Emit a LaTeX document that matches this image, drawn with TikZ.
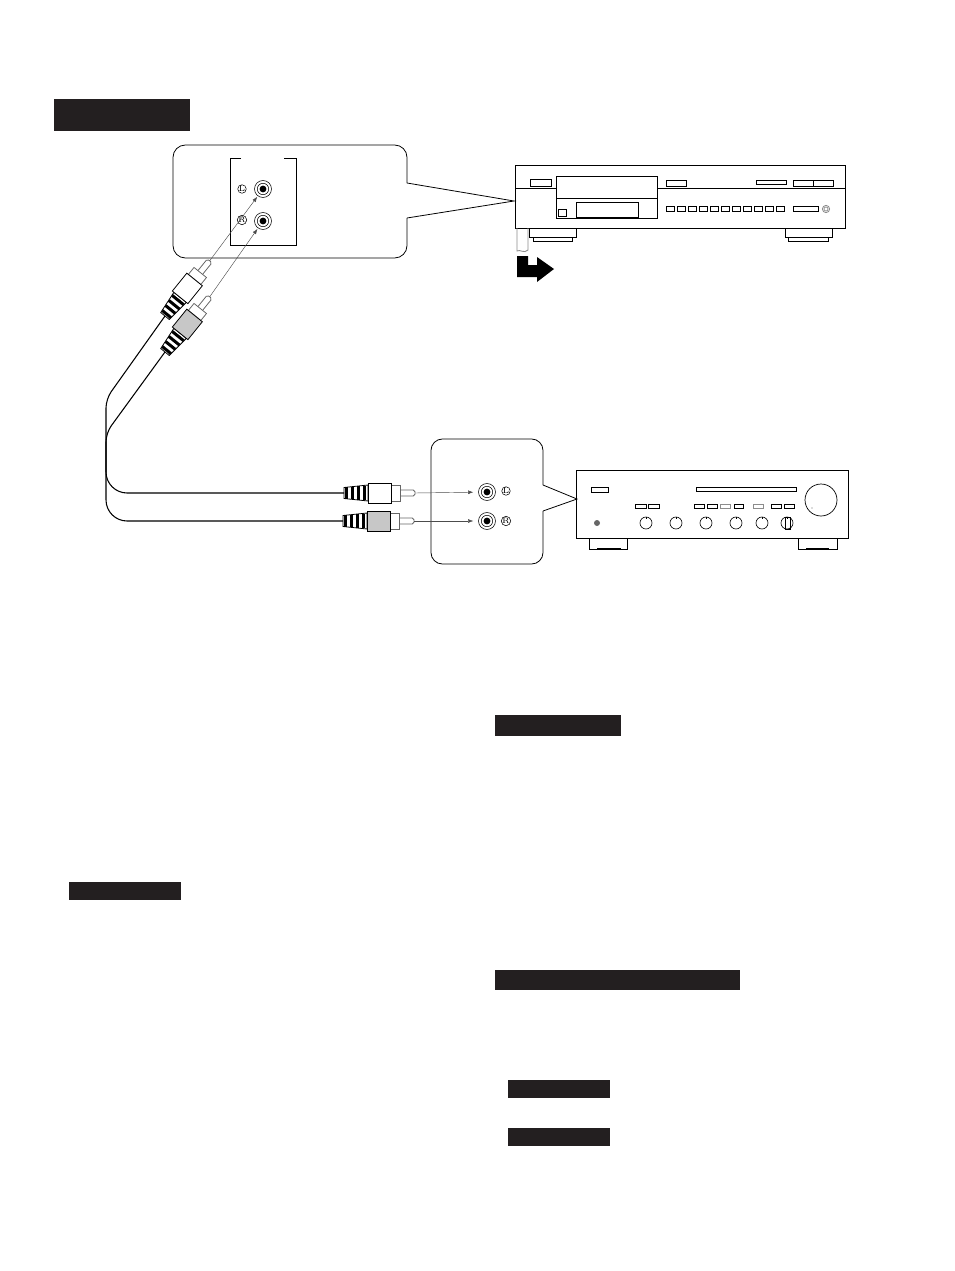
\documentclass[tikz,border=0pt]{standalone}
\usepackage{tikz}
\usetikzlibrary{
    arrows.meta,
    calc
}

\definecolor{barblack}{HTML}{231F20}

\tikzset{
    unit/.style={line width=0.45pt},
    softgrey/.style={draw=black!45,line width=0.5pt},
    signal/.style={draw=black!70,line width=0.25pt,-{Latex[length=3pt,width=2.2pt]}},
    cable/.style={line width=0.6pt},
    jack/.style={circle,draw,line width=0.3pt,minimum size=0.34cm,inner sep=0pt},
    channel/.style={circle,draw,line width=0.3pt,minimum size=0.14cm,inner sep=0pt,font=\fontsize{4.5}{4.5}\selectfont},
    pics/rcaplug/.style={code={
        % Strain relief
        \draw[unit,fill=white] (0,-5.5) -- (24,-8) -- (24,8) -- (0,5.5) -- cycle;
        \foreach \s in {1,7,13,19} {
            \fill[black] (\s,-5.5-\s*0.1) rectangle (\s+3,5.5+\s*0.1);
        }
        % Body, collar and pin
        \draw[unit,draw=black!60,fill=white,rounded corners=1pt] (56,-3) -- (71,-3) -- (71,3) -- (56,3);
        \draw[unit,draw=black!60,fill=white] (47,-8) rectangle (56,8);
        \draw[unit,fill=#1] (24,-10) rectangle (47,10);
        \coordinate (-end) at (0,0);
        \coordinate (-tip) at (71,0);
    }}
}

\begin{document}
\begin{tikzpicture}[x=0.02cm,y=-0.02cm]

\useasboundingbox (0,0) rectangle (954,1271);

% Black bars
\fill[barblack] (54,99) rectangle (190,131);
\fill[barblack] (495,715) rectangle (621,736);
\fill[barblack] (69,882) rectangle (181,900);
\fill[barblack] (495,970) rectangle (740,990);
\fill[barblack] (508,1080) rectangle (610,1098);
\fill[barblack] (508,1128) rectangle (610,1146);

% Upper callout
\draw[unit,rounded corners=7pt] (407,218) -- (407,258) -- (173,258) -- (173,145) -- (407,145) -- (407,183);
\draw[unit] (407,183) -- (514,201) -- (407,218);
\draw[unit] (241,158) -- (230,158) -- (230,245) -- (296,245) -- (296,158) -- (284,158);

\node[jack] (jackL) at (263,189) {};
\node[jack] (jackR) at (263,221) {};
\draw[line width=0.3pt] (jackL) circle (5.7);
\draw[line width=0.3pt] (jackR) circle (5.7);
\fill (jackL) circle (3.4);
\fill (jackR) circle (3.4);
\node[channel] (chanL) at (242,189) {L};
\node[channel] (chanR) at (242,220) {R};

% Lower callout
\draw[unit,rounded corners=6.5pt] (543,511) -- (543,564) -- (431,564) -- (431,439) -- (543,439) -- (543,485);
\draw[unit] (543,485) -- (577,499) -- (543,511);

\node[jack] (ampjackL) at (487,492) {};
\node[jack] (ampjackR) at (487,521) {};
\draw[line width=0.3pt] (ampjackL) circle (5.7);
\draw[line width=0.3pt] (ampjackR) circle (5.7);
\fill (ampjackL) circle (3.4);
\fill (ampjackR) circle (3.4);
\node[channel] (ampchanL) at (506,491) {L};
\node[channel] (ampchanR) at (506,521) {R};

% Plugs
\pic[rotate=51] (plugL) at (165,316) {rcaplug=white};
\pic[rotate=51] (plugR) at (165,352) {rcaplug=black!22};
\pic (ampplugL) at (344,493) {rcaplug=white};
\pic (ampplugR) at (343,521) {rcaplug=black!22};

% Cables
\draw[cable] (plugL-end) [rounded corners=5pt] -- (106,399) [rounded corners=12pt] -- (106,493) -- (ampplugL-end);
\draw[cable] (plugR-end) [rounded corners=5pt] -- (106,433) [rounded corners=12pt] -- (106,521) -- (ampplugR-end);

% Plug to jack arrows
\draw[signal,shorten >=0.5pt] (plugL-tip) -- (jackL);
\draw[signal,shorten >=0.5pt] (plugR-tip) -- (jackR);
\draw[signal,shorten >=2.8pt] (ampplugL-tip) -- (ampjackL);
\draw[signal,shorten >=2.8pt] (ampplugR-tip) -- (ampjackR);

% CD player
\draw[unit] (515,165) rectangle (845,228);
\draw[unit] (515,188) -- (556,188);
\draw[unit] (657,188) -- (845,188);
\draw[unit] (556,176) rectangle (657,218);
\draw[unit] (556,198) -- (657,198);
\draw[unit] (558,209) rectangle (566,216);
\draw[unit] (576,202) rectangle (638,217);
\draw[unit] (530,179) rectangle (551,186);
\draw[unit] (666,180) rectangle (686,186);
\draw[unit] (756,180) rectangle (786,184);
\draw[unit] (793,180) rectangle (813,186);
\draw[unit] (813,180) rectangle (833,186);
\foreach \i in {0,...,10} {
    \draw[unit] (666+\i*11,206) rectangle (674.3+\i*11,211);
}
\draw[unit] (793,206) rectangle (818,211);
\draw[softgrey] (826,209) circle (3.6);
\draw[softgrey,line width=0.4pt] (826,209) circle (2);

% CD player feet
\draw[unit] (529,228) -- (529,237) -- (576,237) -- (576,228);
\draw[unit] (533,237) -- (533,241) -- (572,241) -- (572,237);
\draw[unit] (785,228) -- (785,237) -- (832,237) -- (832,228);
\draw[unit] (788,237) -- (788,241) -- (828,241) -- (828,237);

% Cable stub and bent arrow
\draw[softgrey] (517,228) -- (517,251) .. controls (520,249) and (524,254) .. (528,250) -- (528,228);
\fill (517,256) -- (528,256) -- (528,265) -- (537,265) -- (537,257) -- (554,269) -- (537,282) -- (537,277) -- (517,277) -- cycle;

% Amplifier
\draw[unit] (576,470) rectangle (848,538);
\draw[unit] (591,487) rectangle (608,492);
\draw[unit] (696,487) rectangle (796,491);
\draw[line width=0.4pt] (821,500) circle (16);
\fill[black!60] (812,508) circle (0.6);
\foreach \a/\b in {635/646,648/659,694/704,707/717,734/743,771/781,784/794} {
    \draw[unit] (\a,504) rectangle (\b,508);
}
\draw[softgrey] (720,504) rectangle (730,508);
\draw[softgrey] (753,504) rectangle (763,508);
\foreach \k in {646,676,706,736,762,787} {
    \draw[line width=0.35pt] (\k,523) circle (6);
    \draw[line width=0.25pt] (\k,517) -- (\k,519);
}
\draw[unit] (785,517) rectangle (790,529);
\fill[black!60] (597,523) circle (3);

% Amplifier feet
\draw[unit] (589,538) -- (589,549) -- (627,549) -- (627,538);
\draw[unit] (798,538) -- (798,549) -- (837,549) -- (837,538);
\draw[line width=1pt] (597,549) -- (621,549);
\draw[line width=1pt] (806,549) -- (829,549);

\end{tikzpicture}
\end{document}
